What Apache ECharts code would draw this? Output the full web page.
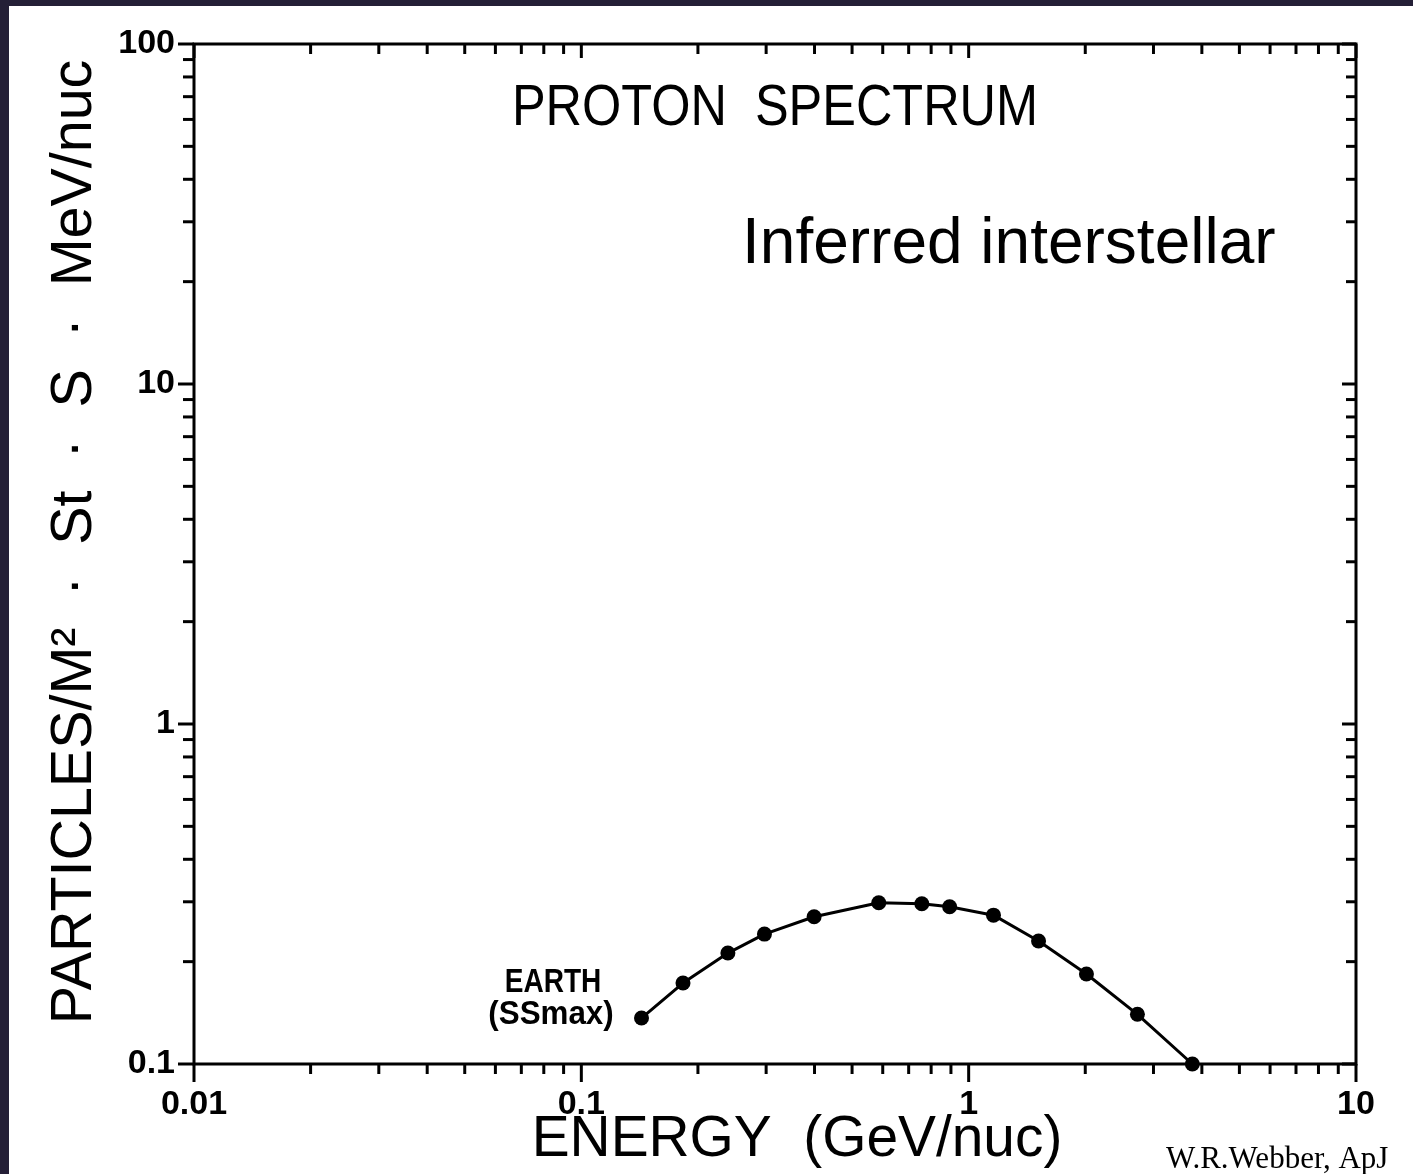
<!DOCTYPE html>
<html>
<head>
<meta charset="utf-8">
<title>Proton Spectrum</title>
<script src="https://cdn.jsdelivr.net/npm/echarts@6/dist/echarts.min.js"></script>
<style>
  html, body { margin: 0; padding: 0; background: #241f36; }
  #chart { width: 1413px; height: 1174px; }
</style>
</head>
<body>
<div id="chart"></div>
<script>
// Proton spectrum measured at Earth near solar maximum
const energy = [0.143, 0.183, 0.239, 0.297, 0.399, 0.586, 0.757, 0.893, 1.159, 1.515, 2.014, 2.727, 3.78];
const flux   = [0.1365, 0.173, 0.212, 0.241, 0.271, 0.298, 0.296, 0.290, 0.274, 0.230, 0.184, 0.140, 0.100];

// Axis ranges and tick labels
const xRange = [0.01, 10];
const yRange = [0.1, 100];
const xTickLabels = { 0.01: '0.01', 0.1: '0.1', 1: '1', 10: '10' };
const yTickLabels = { 0.1: '0.1', 1: '1', 10: '10', 100: '100' };

// Decades and mantissas used for the hand-drawn tick marks
const xMajor = [0.01, 0.1, 1, 10];
const yMajor = [0.1, 1, 10, 100];
const xDecades = [0.01, 0.1, 1];
const yDecades = [0.1, 1, 10];
const minorSteps = [2, 3, 4, 5, 6, 7, 8, 9];

const chart = echarts.init(document.getElementById('chart'), null, { renderer: 'canvas' });

const labelFont = { fontFamily: 'Liberation Sans', fontWeight: 'bold', fontSize: 34, color: '#000' };
const titleFont = 'Liberation Sans';

function minorValues(decades) {
  const out = [];
  decades.forEach(d => minorSteps.forEach(m => out.push(+(d * m).toPrecision(3))));
  return out;
}

function renderTicks(params, api) {
  const bl = api.coord([xRange[0], yRange[0]]);
  const tr = api.coord([xRange[1], yRange[1]]);
  const left = bl[0], bottom = bl[1], right = tr[0], top = tr[1];
  const style = { stroke: '#000', lineWidth: 3 };
  const children = [];
  const seg = (x1, y1, x2, y2) => children.push({ type: 'line', shape: { x1, y1, x2, y2 }, style });

  const xs = [].concat(xMajor.map(v => [v, true]), minorValues(xDecades).map(v => [v, false]));
  xs.forEach(([v, major]) => {
    const px = api.coord([v, yRange[0]])[0];
    seg(px, bottom, px, bottom + (major ? 18 : 10));   // outward on bottom
    seg(px, top, px, top + (major ? 14 : 10));          // inward on top
  });
  const ys = [].concat(yMajor.map(v => [v, true]), minorValues(yDecades).map(v => [v, false]));
  ys.forEach(([v, major]) => {
    const py = api.coord([xRange[0], v])[1];
    seg(left - (major ? 16 : 11), py, left, py);        // outward on left
    seg(right - (major ? 14 : 10), py, right, py);      // inward on right
  });
  return { type: 'group', children };
}

const option = {
  animation: false,
  backgroundColor: '#241f36',
  grid: {
    left: 194, right: 57, top: 44, bottom: 110,
    show: true, borderColor: '#000', borderWidth: 3, backgroundColor: 'transparent'
  },
  xAxis: {
    type: 'log', logBase: 10, min: xRange[0], max: xRange[1],
    axisLine: { show: false }, axisTick: { show: false }, splitLine: { show: false },
    axisLabel: {
      ...labelFont, margin: 24,
      formatter: v => xTickLabels[+v.toPrecision(3)] || ''
    }
  },
  yAxis: {
    type: 'log', logBase: 10, min: yRange[0], max: yRange[1],
    axisLine: { show: false }, axisTick: { show: false }, splitLine: { show: false },
    axisLabel: {
      ...labelFont, margin: 19,
      formatter: v => yTickLabels[+v.toPrecision(3)] || ''
    }
  },
  graphic: [
    { type: 'rect', z: -10, silent: true, shape: { x: 9, y: 6, width: 1404, height: 1168 }, style: { fill: '#ffffff' } },
    { type: 'text', z: 10, x: 775, y: 109, scaleX: 0.87,
      style: { text: 'PROTON  SPECTRUM', font: '58px ' + titleFont, fill: '#000', align: 'center', verticalAlign: 'middle' } },
    { type: 'text', z: 10, x: 742, y: 245,
      style: { text: 'Inferred interstellar', font: '64px ' + titleFont, fill: '#000', align: 'left', verticalAlign: 'middle' } },
    { type: 'text', z: 10, x: 797, y: 1140, scaleX: 0.98,
      style: { text: 'ENERGY  (GeV/nuc)', font: '58px ' + titleFont, fill: '#000', align: 'center', verticalAlign: 'middle' } },
    { type: 'text', z: 10, x: 75, y: 542, rotation: Math.PI / 2, scaleX: 0.99,
      style: { text: 'PARTICLES/M\u00B2  \u00B7  St  \u00B7  S  \u00B7  MeV/nuc', font: '58px ' + titleFont, fill: '#000', align: 'center', verticalAlign: 'middle' } },
    { type: 'text', z: 10, x: 553, y: 983, scaleX: 0.85,
      style: { text: 'EARTH', font: 'bold 33px ' + titleFont, fill: '#000', align: 'center', verticalAlign: 'middle' } },
    { type: 'text', z: 10, x: 551, y: 1015, scaleX: 0.95,
      style: { text: '(SSmax)', font: 'bold 33px ' + titleFont, fill: '#000', align: 'center', verticalAlign: 'middle' } },
    { type: 'text', z: 10, x: 1166, y: 1160,
      style: { text: 'W.R.Webber, ApJ', font: '31px Liberation Serif', fill: '#000', align: 'left', verticalAlign: 'middle' } }
  ],
  series: [
    {
      type: 'custom',
      renderItem: renderTicks,
      data: [[xRange[0], yRange[0]]],
      silent: true,
      z: 5
    },
    {
      type: 'line',
      data: energy.map((e, i) => [e, flux[i]]),
      clip: false,
      symbol: 'circle',
      symbolSize: 15,
      lineStyle: { color: '#000', width: 3 },
      itemStyle: { color: '#000' },
      z: 6
    }
  ]
};

chart.setOption(option);
</script>
</body>
</html>
